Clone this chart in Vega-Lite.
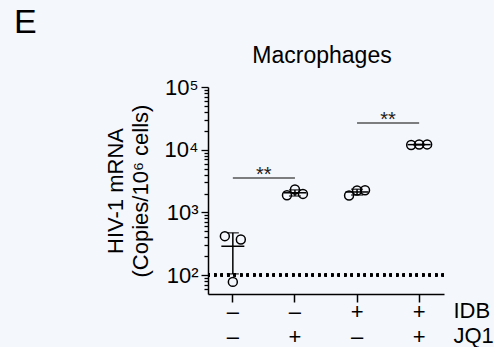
{
  "$schema": "https://vega.github.io/schema/vega-lite/v6.json",
  "background": "#f4f7fc",
  "padding": {"left": 14, "top": 6, "right": 0, "bottom": 0},
  "config": {"view": {"stroke": null}, "font": "Liberation Sans"},
  "title": {"text": "E", "anchor": "start", "frame": "bounds", "fontSize": 34, "fontWeight": "normal", "color": "black", "dx": -90, "offset": 5},
  "datasets": {
    "points": [
      {"group": "–|–", "rep": "a", "value": 418},
      {"group": "–|–", "rep": "b", "value": 78},
      {"group": "–|–", "rep": "c", "value": 370},
      {"group": "–|+", "rep": "a", "value": 1880},
      {"group": "–|+", "rep": "b", "value": 2317},
      {"group": "–|+", "rep": "c", "value": 1973},
      {"group": "+|–", "rep": "a", "value": 1860},
      {"group": "+|–", "rep": "b", "value": 2233},
      {"group": "+|–", "rep": "c", "value": 2262},
      {"group": "+|+", "rep": "a", "value": 11900},
      {"group": "+|+", "rep": "b", "value": 12100},
      {"group": "+|+", "rep": "c", "value": 12150}
    ],
    "sig": [
      {"from": "–|–", "to": "–|+", "y": 3540, "label": "**"},
      {"from": "+|–", "to": "+|+", "y": 26600, "label": "**"}
    ]
  },
  "vconcat": [
    {
      "width": 236,
      "height": 207,
      "title": {"text": "Macrophages", "fontSize": 23, "fontWeight": "normal", "color": "black", "baseline": "alphabetic", "offset": -10, "dx": -4},
      "data": {"name": "points"},
      "encoding": {
        "x": {
          "field": "group", "type": "nominal",
          "scale": {"domain": ["–|–", "–|+", "+|–", "+|+"], "paddingInner": 0.614, "paddingOuter": 0.207},
          "axis": {
            "title": ["IDB", "JQ1"], "titleX": 245, "titleY": 6, "titleAlign": "left", "titleBaseline": "top",
            "titleFontSize": 22, "titleFontWeight": "normal", "titleLineHeight": 25, "titleColor": "black",
            "labelExpr": "split(datum.label, '|')", "labelFontSize": 22, "labelLineHeight": 25, "labelAngle": 0,
            "labelBaseline": "top", "labelPadding": -1, "labelColor": "black",
            "tickSize": 8, "tickWidth": 1.5, "tickColor": "black", "domainWidth": 1.5, "domainColor": "black"
          }
        },
        "y": {
          "field": "value", "type": "quantitative",
          "scale": {"type": "log", "domain": [50, 100000], "nice": false},
          "axis": {
            "values": [60, 70, 80, 90, 100, 200, 300, 400, 500, 600, 700, 800, 900, 1000, 2000, 3000, 4000, 5000, 6000, 7000, 8000, 9000, 10000, 20000, 30000, 40000, 50000, 60000, 70000, 80000, 90000, 100000],
            "labelExpr": "datum.value == 100 ? '10²' : datum.value == 1000 ? '10³' : datum.value == 10000 ? '10⁴' : datum.value == 100000 ? '10⁵' : ''",
            "tickSize": {"condition": {"test": "indexof([100, 1000, 10000, 100000], datum.value) >= 0", "value": 7}, "value": 4},
            "tickWidth": 1.3, "tickColor": "black",
            "labelFontSize": 22, "labelPadding": 3, "labelOverlap": false, "labelColor": "black",
            "title": ["HIV-1 mRNA", "(Copies/10⁶ cells)"], "titleFontSize": 22, "titleFontWeight": "normal",
            "titleLineHeight": 25, "titlePadding": 12, "titleColor": "black",
            "grid": false, "domainWidth": 1.5, "domainColor": "black"
          }
        }
      },
      "layer": [
        {
          "mark": {"type": "rule", "strokeDash": [2.5, 4], "strokeWidth": 2.5, "color": "black"},
          "encoding": {"x": null, "y": {"datum": 100}}
        },
        {
          "mark": {"type": "errorbar", "extent": "stdev", "color": "black", "ticks": {"size": 12, "thickness": 1.5, "color": "black"}, "rule": {"strokeWidth": 1.5}}
        },
        {
          "mark": {"type": "tick", "size": 23, "thickness": 1.5, "color": "black"},
          "encoding": {"y": {"aggregate": "mean", "field": "value", "type": "quantitative"}}
        },
        {
          "mark": {"type": "point", "shape": "circle", "filled": false, "size": 80, "strokeWidth": 1.5, "color": "black", "opacity": 1},
          "encoding": {"xOffset": {"field": "rep", "type": "nominal"}}
        },
        {
          "data": {"name": "sig"},
          "mark": {"type": "rule", "color": "#555555", "strokeWidth": 1.5},
          "encoding": {
            "x": {"field": "from", "type": "nominal"},
            "x2": {"field": "to"},
            "y": {"field": "y", "type": "quantitative"}
          }
        },
        {
          "data": {"name": "sig"},
          "mark": {"type": "text", "fontSize": 20, "dx": 31, "dy": 3, "baseline": "alphabetic", "color": "#222222"},
          "encoding": {
            "x": {"field": "from", "type": "nominal"},
            "y": {"field": "y", "type": "quantitative"},
            "text": {"field": "label"}
          }
        }
      ]
    }
  ]
}
